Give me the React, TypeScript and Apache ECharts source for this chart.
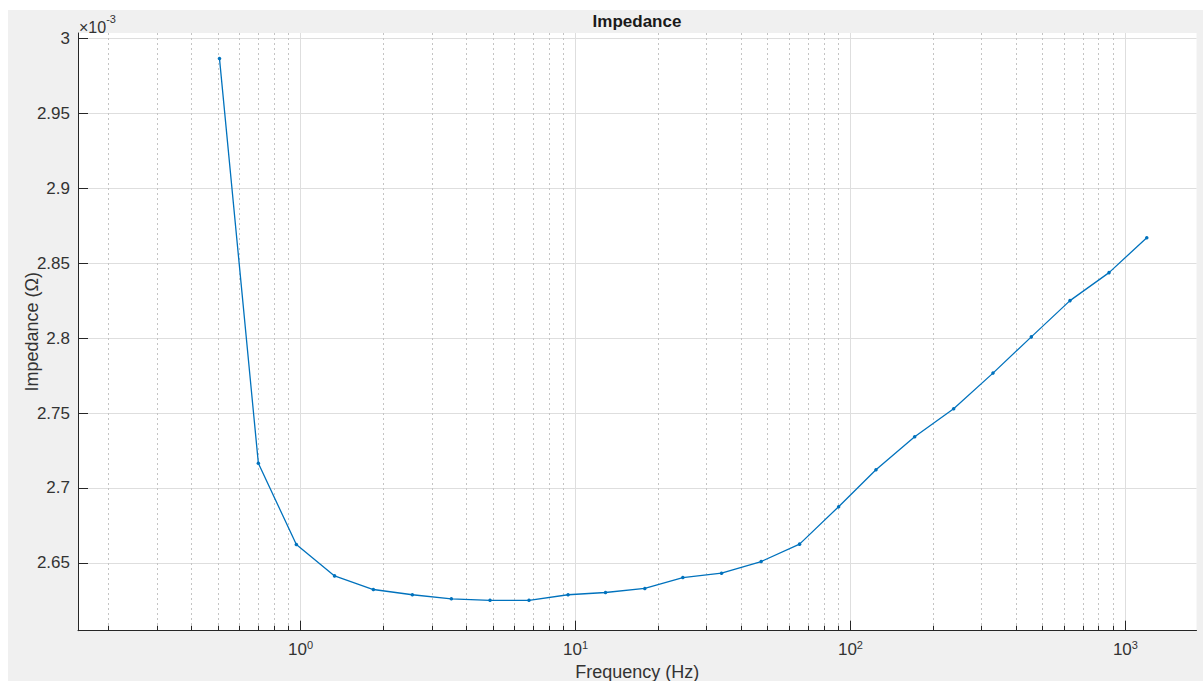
import React, { useEffect, useRef } from "react";
import * as echarts from "echarts";

// Frequency (Hz) of each measured point
const frequencies = [
  0.507, 0.702, 0.965, 1.329, 1.839, 2.55, 3.535, 4.886, 6.772, 9.393,
  12.85, 17.86, 24.56, 33.96, 47.33, 65.29, 90.55, 123.8, 171.2, 237.3,
  329.9, 454.8, 628.8, 872.0, 1196,
];

// Impedance (Ohm)
const impedance = [
  2.9867e-3, 2.7165e-3, 2.6622e-3, 2.6413e-3, 2.6322e-3, 2.6287e-3, 2.626e-3,
  2.625e-3, 2.625e-3, 2.6287e-3, 2.6302e-3, 2.6329e-3, 2.6402e-3, 2.6431e-3,
  2.6509e-3, 2.6625e-3, 2.6875e-3, 2.7122e-3, 2.7342e-3, 2.7529e-3,
  2.7767e-3, 2.8009e-3, 2.8251e-3, 2.8438e-3, 2.8671e-3,
];

// Axis ticks
const xMajorTicks = [1, 10, 100, 1000];
const xMinorTicks = [
  0.2, 0.3, 0.4, 0.5, 0.6, 0.7, 0.8, 0.9,
  2, 3, 4, 5, 6, 7, 8, 9,
  20, 30, 40, 50, 60, 70, 80, 90,
  200, 300, 400, 500, 600, 700, 800, 900,
];
const yTicks = [2.65e-3, 2.7e-3, 2.75e-3, 2.8e-3, 2.85e-3, 2.9e-3, 2.95e-3, 3.0e-3];

const X_MIN = 0.155;
const X_MAX = 1814;
const Y_MIN = 2.6047e-3;
const Y_MAX = 3.0038e-3;

const FONT = "'Liberation Sans', Arial, sans-serif";
const AXIS_COLOR = "#262626";
const TEXT_COLOR = "#333333";

export default function App() {
  const ref = useRef<HTMLDivElement>(null);

  useEffect(() => {
    if (!ref.current) return;
    const chart = echarts.init(ref.current, undefined, { renderer: "svg" });
    const data = frequencies.map((f, i) => [f, impedance[i]]);

    chart.setOption({
      animation: false,
      backgroundColor: "#f0f0f0",
      textStyle: { fontFamily: FONT },
      grid: {
        show: true,
        backgroundColor: "#ffffff",
        borderWidth: 0,
        left: 70,
        top: 23,
        right: 6.5,
        bottom: 50.3,
        containLabel: false,
        outerBoundsMode: "none",
      },
      graphic: [
        {
          type: "text",
          x: 629,
          y: 11,
          style: {
            text: "Impedance",
            fill: "#1a1a1a",
            font: `bold 17px ${FONT}`,
            textAlign: "center",
            textVerticalAlign: "middle",
          },
        },
        {
          type: "text",
          x: 71,
          y: 3,
          style: {
            text: "{b|×10}{s|-3}",
            textVerticalAlign: "top",
            rich: {
              b: { fontSize: 16, fontFamily: FONT, fill: TEXT_COLOR, color: TEXT_COLOR, padding: [6, 0, 0, 0] },
              s: { fontSize: 11, fontFamily: FONT, fill: TEXT_COLOR, color: TEXT_COLOR, verticalAlign: "top" },
            },
          },
        },
      ],
      xAxis: [
        {
          type: "log",
          logBase: 10,
          min: X_MIN,
          max: X_MAX,
          name: "Frequency (Hz)",
          nameLocation: "middle",
          nameGap: 30,
          nameTextStyle: { fontSize: 18, color: TEXT_COLOR, fontFamily: FONT },
          axisLine: { show: true, onZero: false, lineStyle: { color: AXIS_COLOR, width: 1 } },
          axisTick: {
            show: true,
            inside: true,
            length: 10,
            customValues: xMajorTicks,
            lineStyle: { color: AXIS_COLOR, width: 1 },
          },
          axisLabel: {
            customValues: xMajorTicks,
            margin: 9,
            formatter: (v: number) => `{b|10}{s|${Math.round(Math.log10(v))}}`,
            rich: {
              b: { fontSize: 17, color: TEXT_COLOR, fontFamily: FONT },
              s: { fontSize: 11, color: TEXT_COLOR, fontFamily: FONT, verticalAlign: "top", padding: [0, 0, 9, 0] },
            },
          },
          splitLine: { show: true, lineStyle: { color: "#dedede", width: 1 } },
          minorTick: { show: false },
        },
        {
          type: "log",
          logBase: 10,
          min: X_MIN,
          max: X_MAX,
          position: "bottom",
          axisLine: { show: false, onZero: false },
          axisTick: {
            show: true,
            inside: true,
            length: 5,
            customValues: xMinorTicks,
            lineStyle: { color: AXIS_COLOR, width: 1 },
          },
          axisLabel: { show: false },
          splitLine: { show: true, lineStyle: { color: "#c4c4c4", width: 1, type: [2, 3] } },
        },
      ],
      yAxis: {
        type: "value",
        min: Y_MIN,
        max: Y_MAX,
        name: "Impedance (Ω)",
        nameLocation: "middle",
        nameGap: 37,
        nameMoveOverlap: false,
        nameTextStyle: { fontSize: 18, color: TEXT_COLOR, fontFamily: FONT },
        axisLine: { show: true, lineStyle: { color: AXIS_COLOR, width: 1 } },
        axisTick: {
          show: true,
          inside: true,
          length: 10,
          customValues: yTicks,
          lineStyle: { color: AXIS_COLOR, width: 1 },
        },
        axisLabel: {
          customValues: yTicks,
          margin: 8,
          fontSize: 17,
          color: TEXT_COLOR,
          fontFamily: FONT,
          formatter: (v: number) => String(parseFloat((v * 1000).toFixed(3))),
        },
        splitLine: { show: true, lineStyle: { color: "#dedede", width: 1 } },
      },
      series: [
        {
          type: "line",
          xAxisIndex: 0,
          data,
          symbol: "circle",
          symbolSize: 3.5,
          showSymbol: true,
          lineStyle: { color: "#0072BD", width: 1.3 },
          itemStyle: { color: "#0072BD" },
          silent: true,
        },
      ],
    });

    return () => chart.dispose();
  }, []);

  return (
    <div
      ref={ref}
      style={{ position: "absolute", left: 8, top: 10, width: 1195, height: 671 }}
    />
  );
}
